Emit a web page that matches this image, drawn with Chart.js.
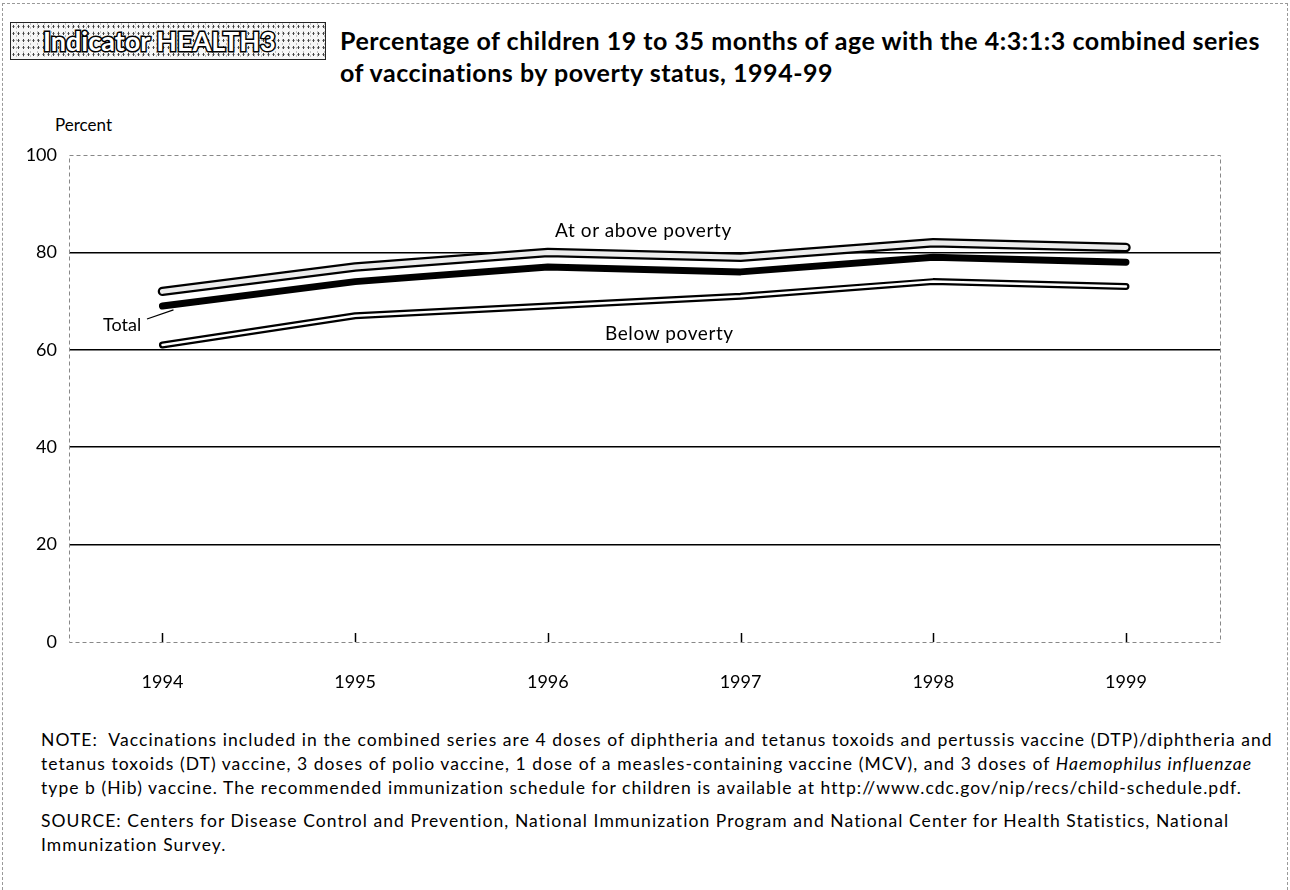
<!DOCTYPE html>
<html>
<head>
<meta charset="utf-8">
<script src="https://cdn.jsdelivr.net/npm/chart.js@4.4.0/dist/chart.umd.min.js"></script>
<style>
  html, body { margin: 0; padding: 0; background: #fff; }
  body { width: 1290px; height: 890px; position: relative; overflow: hidden; font-family: Lato, "Open Sans", sans-serif; color: #000; }
  .page-frame { position: absolute; left: 2px; top: 3px; width: 1284px; height: 900px; border: 1px dashed #999; }
  .badge {
    position: absolute; left: 10px; top: 22px; width: 314px; height: 36px;
    border: 1.5px solid #222;
    background-color: #f6f6f6;
    background-image:
      radial-gradient(#444 0.8px, transparent 1.2px),
      radial-gradient(#999 0.7px, transparent 1.1px);
    background-size: 5px 7px, 7px 4px;
    background-position: 0 0, 2px 3px;
  }
  .badge span {
    position: absolute; left: 32px; top: 1px;
    font: 700 27px Lato, sans-serif; color: #fff;
    -webkit-text-stroke: 3px #000; paint-order: stroke fill;
  }
  .title { position: absolute; left: 340px; top: 24px; font: 700 25px Lato, sans-serif; line-height: 32px; white-space: nowrap; }
  .title div, .notes div { display: inline-block; }
  .ylabel { position: absolute; left: 55px; top: 114px; font-size: 17px; }
  .lbl { position: absolute; font-size: 19px; white-space: nowrap; }
  .notes { position: absolute; left: 41px; top: 728px; font-size: 17.5px; line-height: 24px; white-space: nowrap; }
  .notes p { margin: 0 0 9px 0; }
  #wrap { position: absolute; left: 0; top: 0; width: 1290px; height: 720px; }
</style>
</head>
<body>
<div class="page-frame"></div>
<div class="badge"><span>Indicator HEALTH3</span></div>
<div class="title">
  <div id="t1">Percentage of children 19 to 35 months of age with the 4:3:1:3 combined series</div><br>
  <div>of vaccinations by poverty status, 1994-99</div>
</div>
<div class="ylabel">Percent</div>
<div id="wrap"><canvas id="grafico"></canvas></div>
<div class="lbl" style="left:555px; top:218px; letter-spacing:0.6px;">At or above poverty</div>
<div class="lbl" style="left:605px; top:321px; letter-spacing:0.6px;">Below poverty</div>
<div class="lbl" style="left:103px; top:313px; font-size:18px;">Total</div>
<div class="notes" id="notas">
  <p><span id="n1">NOTE:&nbsp; Vaccinations included in the combined series are 4 doses of diphtheria and tetanus toxoids and pertussis vaccine (DTP)/diphtheria and</span><br>
  tetanus toxoids (DT) vaccine, 3 doses of polio vaccine, 1 dose of a measles-containing vaccine (MCV), and 3 doses of <i>Haemophilus influenzae</i><br>
  type b (Hib) vaccine. The recommended immunization schedule for children is available at http://www.cdc.gov/nip/recs/child-schedule.pdf.</p>
  <p>SOURCE: Centers for Disease Control and Prevention, National Immunization Program and National Center for Health Statistics, National<br>
  Immunization Survey.</p>
</div>
<script>
"use strict";
// Dados
const years = [1994, 1995, 1996, 1997, 1998, 1999];
const aboveVals = [72, 77, 80, 79, 82, 81];
const totalVals = [69, 74, 77, 76, 79, 78];
const belowVals = [61, 67, 69, 71, 74, 73];
const yTicks = [0, 20, 40, 60, 80, 100];

// ajusta o espacamento das letras para a largura do original
const ajustar = (bloco, linha, largura) => {
  const n = linha.textContent.length;
  const atual = linha.getBoundingClientRect().width;
  bloco.style.letterSpacing = ((largura - atual) / n).toFixed(3) + "px";
};
ajustar(document.querySelector(".title"), document.getElementById("t1"), 920);
ajustar(document.getElementById("notas"), document.getElementById("n1"), 1232);

const pontos = (vals) => years.map((ano, i) => ({ x: ano, y: vals[i] }));

const linha = (vals, cor, largura, ordem) => ({
  data: pontos(vals),
  borderColor: cor,
  borderWidth: largura,
  borderCapStyle: "round",
  borderJoinStyle: "round",
  pointRadius: 0,
  tension: 0,
  order: ordem,
});

// moldura tracejada + marcas dos anos
const moldura = {
  id: "moldura",
  beforeDatasetsDraw(chart) {
    const { ctx, chartArea: a, scales } = chart;
    ctx.save();
    ctx.strokeStyle = "#888";
    ctx.lineWidth = 1;
    ctx.setLineDash([4, 3]);
    ctx.strokeRect(a.left + 0.5, a.top + 0.5, a.right - a.left, a.bottom - a.top);
    ctx.setLineDash([]);
    ctx.strokeStyle = "#000";
    ctx.lineWidth = 1.5;
    years.forEach((ano) => {
      const x = Math.round(scales.x.getPixelForValue(ano)) + 0.5;
      ctx.beginPath();
      ctx.moveTo(x, a.bottom);
      ctx.lineTo(x, a.bottom - 9);
      ctx.stroke();
    });
    // linha do rotulo Total
    const x0 = scales.x.getPixelForValue(years[0]);
    const y0 = scales.y.getPixelForValue(totalVals[0]);
    ctx.lineWidth = 1.3;
    ctx.beginPath();
    ctx.moveTo(147, 319);
    ctx.lineTo(x0 + 11, y0 + 4);
    ctx.stroke();
    ctx.restore();
  },
};

new Chart(document.getElementById("grafico"), {
  type: "line",
  data: {
    datasets: [
      linha(aboveVals, "#000", 9.5, 6),
      linha(aboveVals, "#ececec", 5, 5),
      linha(totalVals, "#000", 7, 4),
      linha(belowVals, "#000", 7, 3),
      linha(belowVals, "#fff", 2.5, 2),
    ],
  },
  options: {
    responsive: true,
    maintainAspectRatio: false,
    animation: false,
    layout: { padding: { top: 155, right: 70, bottom: 18, left: 0 } },
    plugins: { legend: { display: false }, tooltip: { enabled: false } },
    scales: {
      x: {
        type: "linear",
        min: 1993.515,
        max: 1999.488,
        afterBuildTicks: (s) => { s.ticks = years.map((v) => ({ value: v })); },
        afterFit: (s) => { s.height = 60; },
        grid: { display: false, drawTicks: false },
        border: { display: false },
        ticks: { color: "#000", padding: 29, font: { family: "Lato", size: 18 }, callback: (v) => String(v) },
      },
      y: {
        min: 0,
        max: 100,
        afterBuildTicks: (s) => { s.ticks = yTicks.map((v) => ({ value: v })); },
        afterFit: (s) => { s.width = 69; },
        grid: {
          drawTicks: false,
          lineWidth: 1.5,
          color: (c) => (c.tick && (c.tick.value === 0 || c.tick.value === 100) ? "rgba(0,0,0,0)" : "#000"),
        },
        border: { display: false },
        ticks: { color: "#000", padding: 12, font: { family: "Lato", size: 18 } },
      },
    },
  },
  plugins: [moldura],
});
</script>
</body>
</html>
